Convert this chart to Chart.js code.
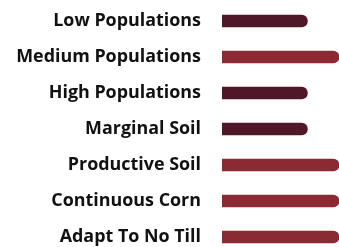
<!DOCTYPE html>
<html>
<head>
<meta charset="utf-8">
<script src="https://cdn.jsdelivr.net/npm/chart.js@4"></script>
<style>
  html, body { margin: 0; padding: 0; background: #fff; overflow: hidden; }
  #wrap { position: relative; width: 339px; height: 258px; }
</style>
</head>
<body>
<div id="wrap"><canvas id="grafico"></canvas></div>
<script>
const categorias = [
  "Low Populations",
  "Medium Populations",
  "High Populations",
  "Marginal Soil",
  "Productive Soil",
  "Continuous Corn",
  "Adapt To No Till"
];
const valores = [73, 100, 73, 73, 100, 100, 100];
const colores = ["#4f1728", "#8b2a33", "#4f1728", "#4f1728", "#8b2a33", "#8b2a33", "#8b2a33"];

const ctx = document.getElementById("grafico").getContext("2d");

new Chart(ctx, {
  type: "bar",
  data: {
    labels: categorias,
    datasets: [{
      data: valores,
      backgroundColor: colores,
      borderSkipped: "start",
      borderRadius: 6,
      barThickness: 12
    }]
  },
  options: {
    indexAxis: "y",
    responsive: true,
    maintainAspectRatio: false,
    animation: false,
    layout: { padding: { top: 3, bottom: 3, left: 0, right: 0 } },
    plugins: {
      legend: { display: false },
      tooltip: { enabled: false }
    },
    scales: {
      x: {
        display: false,
        min: 0,
        max: 100
      },
      y: {
        border: { display: false },
        grid: { display: false, drawTicks: false },
        ticks: {
          color: "#111111",
          padding: 21,
          font: { family: "Open Sans", size: 17.9, weight: "bold" }
        },
        afterFit: function(scale) {
          scale.width = 222;
          // sin margen extra arriba/abajo por el padding de las etiquetas
          scale.paddingTop = 0;
          scale.paddingBottom = 0;
        }
      }
    }
  }
});
</script>
</body>
</html>
